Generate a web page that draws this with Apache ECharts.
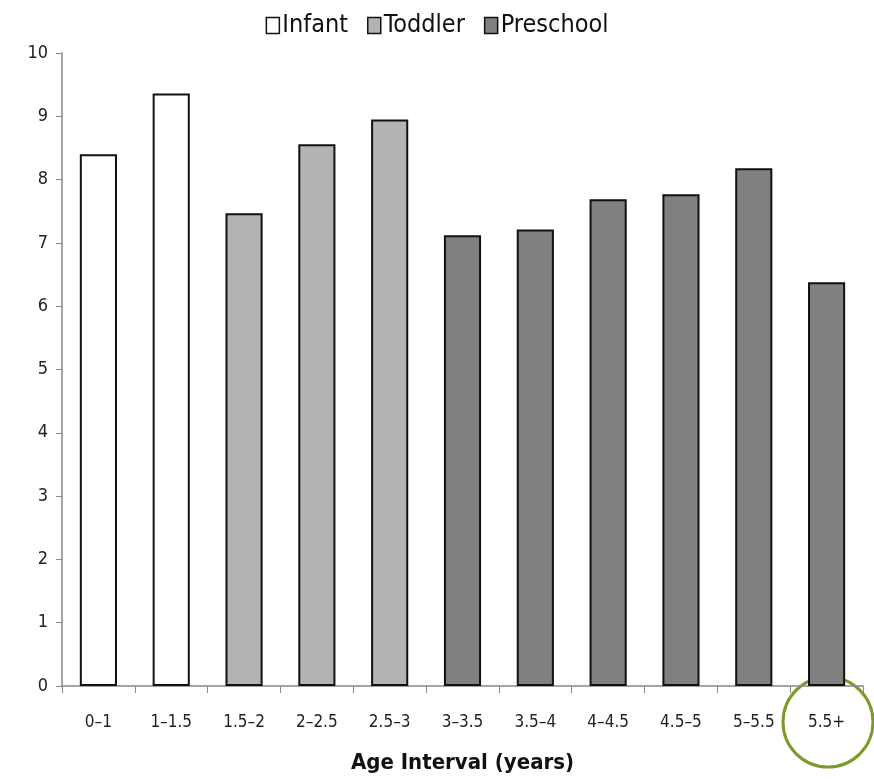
<!DOCTYPE html>
<html><head><meta charset="utf-8">
<script src="https://cdn.jsdelivr.net/npm/echarts@6/dist/echarts.min.js"></script>
<style>html,body{margin:0;padding:0;background:#fff}#c{width:874px;height:781px}</style>
</head><body><div id="c"></div>
<script>
const categories = ['0\u20131','1\u20131.5','1.5\u20132','2\u20132.5','2.5\u20133','3\u20133.5','3.5\u20134','4\u20134.5','4.5\u20135','5\u20135.5','5.5+'];
const infant    = [8.40, 9.36, null, null, null, null, null, null, null, null, null];
const toddler   = [null, null, 7.47, 8.56, 8.95, null, null, null, null, null, null];
const preschool = [null, null, null, null, null, 7.12, 7.21, 7.69, 7.77, 8.18, 6.38];
const yTicks = [0,1,2,3,4,5,6,7,8,9,10];

const FONT = 'Liberation Sans Narrow, DejaVu Sans Condensed, sans-serif';
const chart = echarts.init(document.getElementById('c'));
function s(name, data, color){
  return {name, type:'bar', stack:'all', data, barWidth:'51%',
    itemStyle:{color, borderColor:'#111', borderWidth:2}};
}
chart.setOption({
  animation:false,
  legend:{top:8, left:'center', icon:'rect', itemWidth:13, itemHeight:16, itemGap:19,
    textStyle:{fontFamily:FONT, fontSize:25, color:'#111', padding:[0,0,0,-2]},
    itemStyle:{borderColor:'#111', borderWidth:1.5},
    data:['Infant','Toddler','Preschool']},
  grid:{left:62, right:11, top:53, bottom:95},
  xAxis:{type:'category', data:categories,
    axisLine:{lineStyle:{color:'#888', width:1.5}},
    axisTick:{show:true, length:7, lineStyle:{color:'#888'}},
    axisLabel:{fontFamily:FONT, fontSize:17, color:'#222', margin:28},
    name:'Age Interval (years)', nameLocation:'middle', nameGap:66,
    nameTextStyle:{fontFamily:FONT, fontSize:22, fontWeight:'bold', color:'#111'}},
  yAxis:{type:'value', min:0, max:10, interval:1,
    axisLine:{show:true, lineStyle:{color:'#888', width:1.5}},
    axisTick:{show:true, length:6, lineStyle:{color:'#888'}},
    splitLine:{show:false},
    axisLabel:{fontFamily:FONT, fontSize:18, color:'#222', margin:14,
      formatter:v=>yTicks.includes(v)?String(v):''}},
  series:[s('Infant',infant,'#ffffff'), s('Toddler',toddler,'#b3b3b3'), s('Preschool',preschool,'#808080')],
  graphic:[{type:'circle', x:828, y:722, shape:{cx:0, cy:0, r:45},
    style:{fill:'none', stroke:'#7a9a2a', lineWidth:3}}]
});
</script></body></html>
